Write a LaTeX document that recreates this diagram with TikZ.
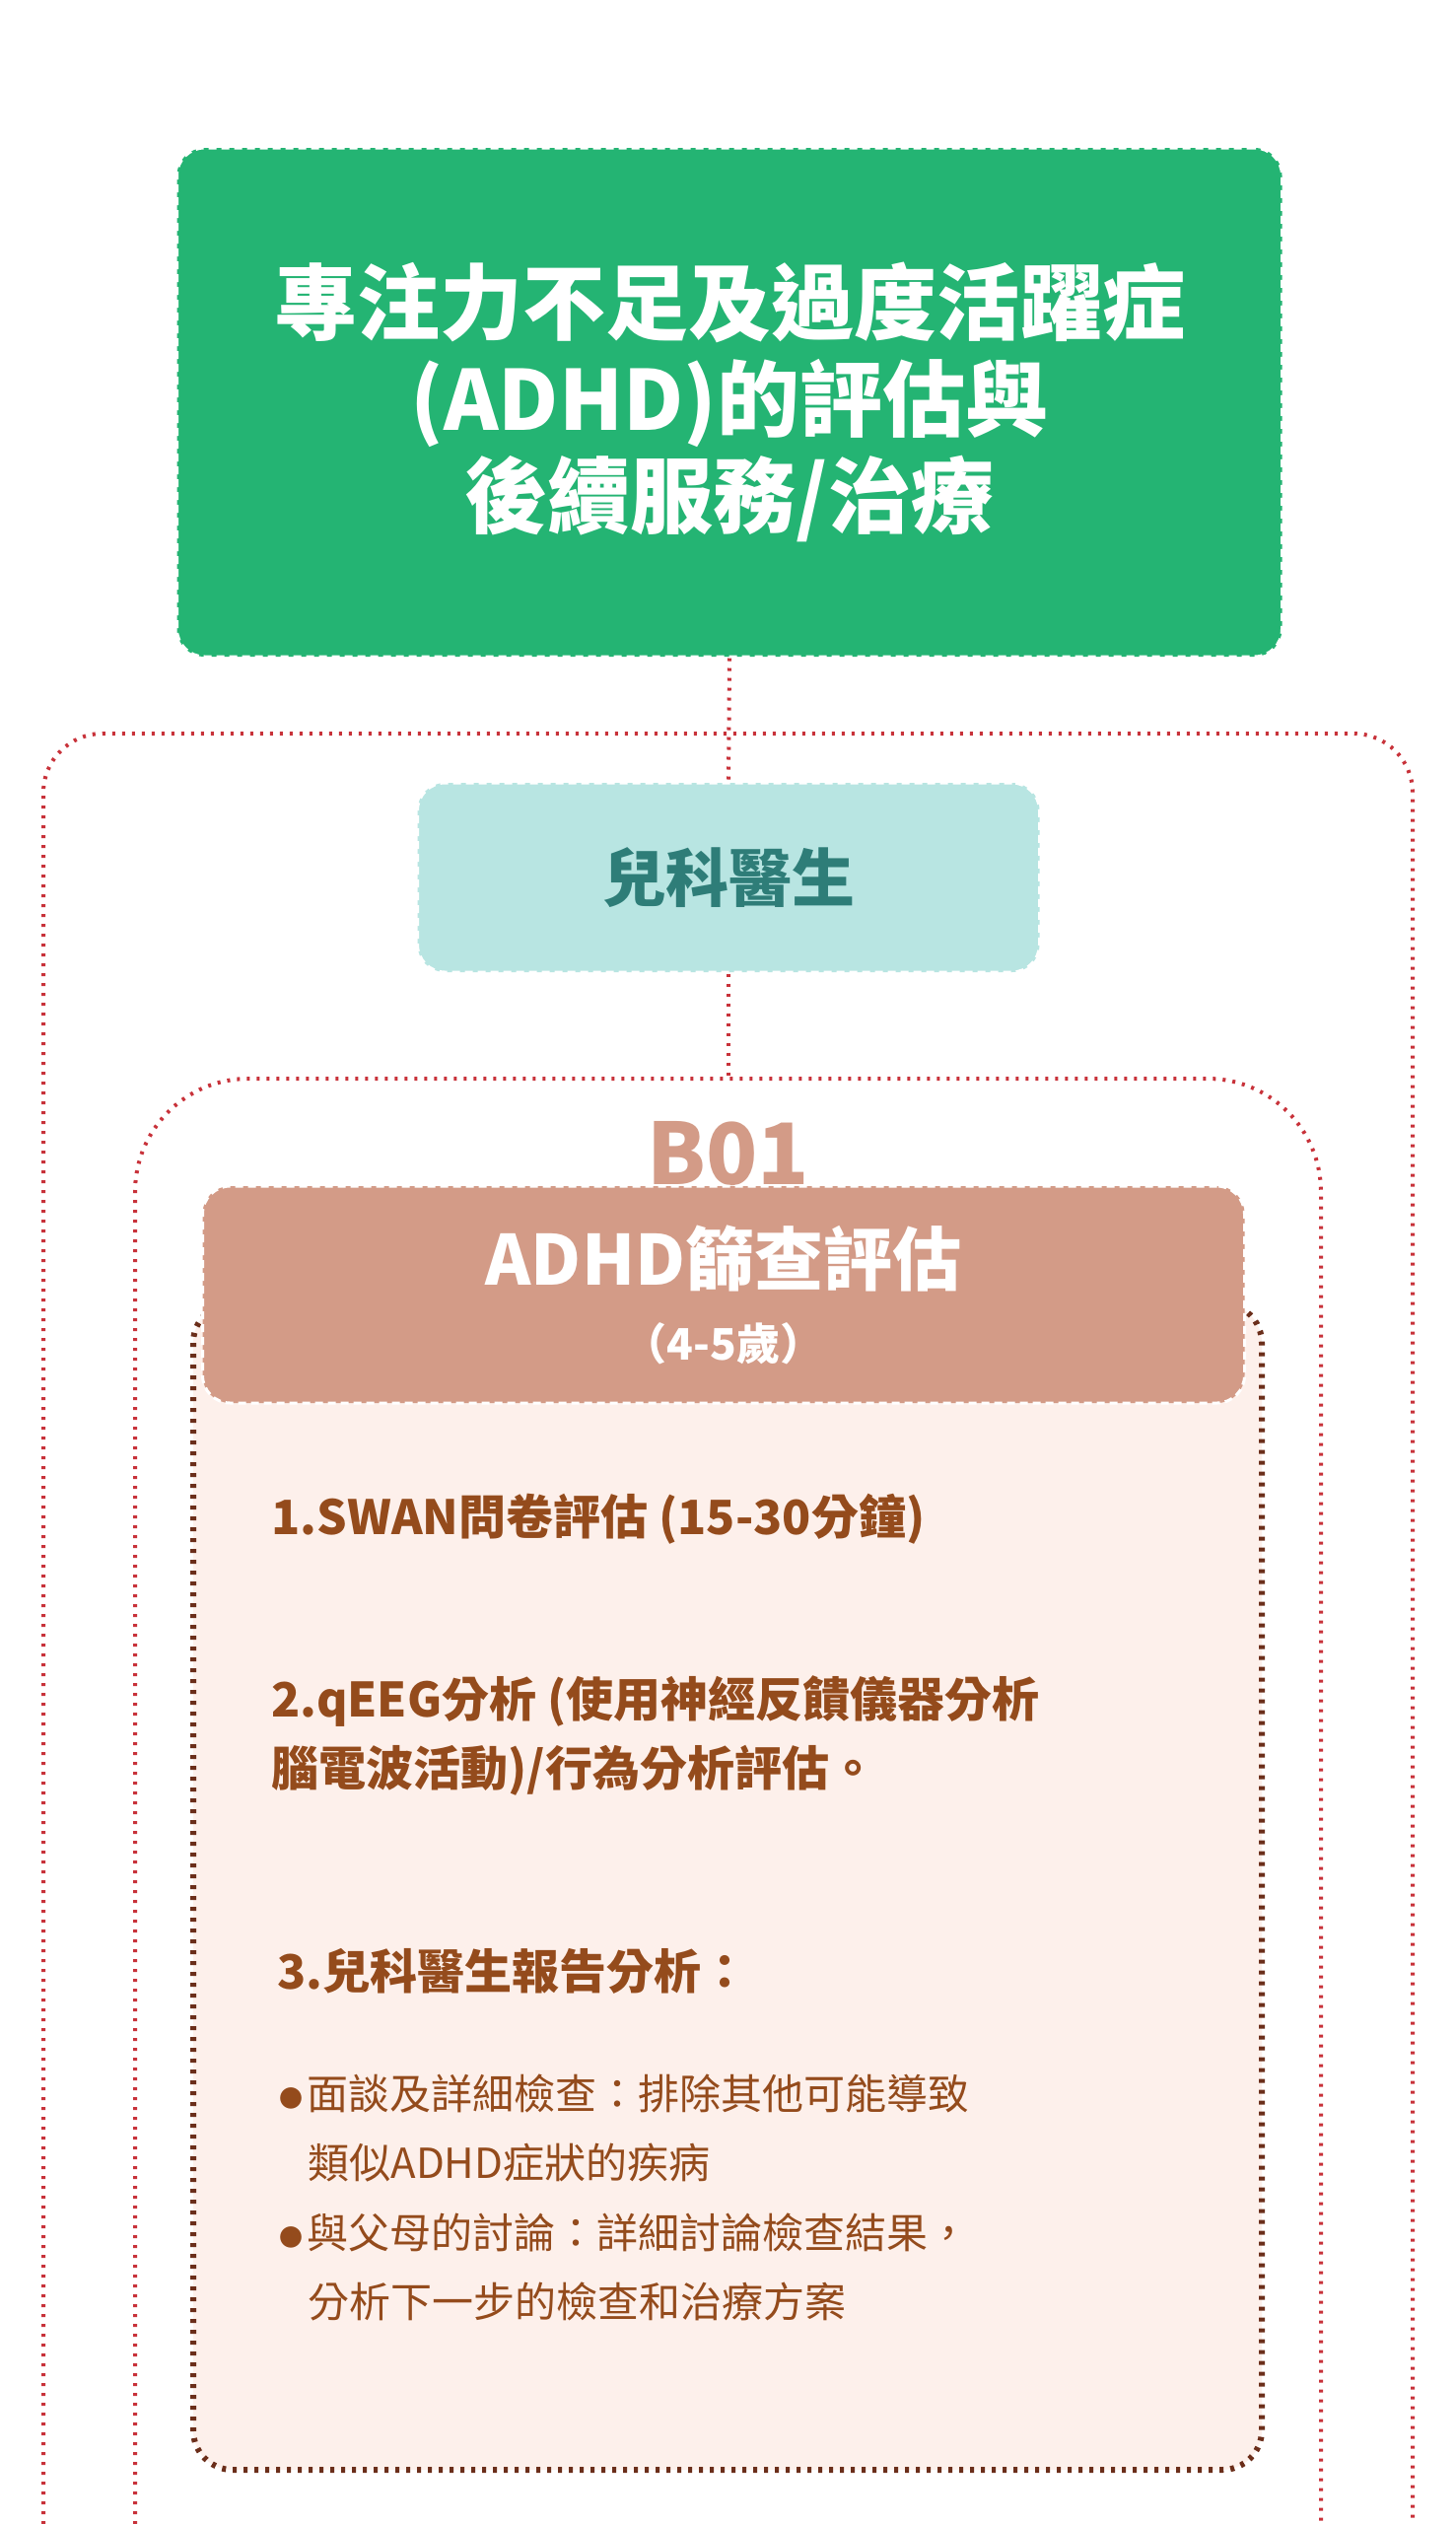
\documentclass[tikz,border=0pt]{standalone}
\usepackage{fontspec}
\setmainfont{Noto Sans CJK TC}
\usepackage{xcolor}
\usetikzlibrary{positioning, backgrounds}
\definecolor{titlegreen}{HTML}{24B473}
\definecolor{docblue}{HTML}{B8E5E2}
\definecolor{docteal}{HTML}{2E7D78}
\definecolor{boxbrown}{HTML}{D39B87}
\definecolor{panelpink}{HTML}{FDF0EB}
\definecolor{panelline}{HTML}{6B2E1A}
\definecolor{txtbrown}{HTML}{944B1C}
\definecolor{linered}{HTML}{C8323A}
\newcommand{\itembullet}{\raisebox{2pt}{\fontsize{24}{24}\selectfont ●}\hspace{4pt}}
\tikzset{
	reddots/.style={draw=linered, line width=4pt, dash pattern=on 3pt off 7pt},
	whitedash/.style={draw=white, line width=3pt, dash pattern=on 8pt off 5pt, rounded corners=28pt},
	itembold/.style={anchor=west, text=txtbrown, font=\bfseries\fontsize{48}{70}\selectfont, align=left},
	itemplain/.style={anchor=west, text=txtbrown, font=\fontsize{42}{70}\selectfont, align=left},
}
\begin{document}
\begin{tikzpicture}[x=1pt, y=-1pt]
	\useasboundingbox[fill=white] (0,0) rectangle (1477,2560);
		% outer frames
		\draw[reddots, rounded corners=60pt] (44,2600) -- (44,744) -- (1433,744) -- (1433,2600);
		\draw[reddots, rounded corners=115pt] (137,2600) -- (137,1094) -- (1340,1094) -- (1340,2600);

		% title
		\node[whitedash, fill=titlegreen, minimum width=1121pt, minimum height=516pt, text=white, align=center,
			font=\bfseries\fontsize{84}{98}\selectfont] (title) at (740,408)
			{專注力不足及過度活躍症\\(ADHD)的評估與\\後續服務/治療};

		\node[whitedash, fill=docblue, minimum width=631pt, minimum height=192pt, text=docteal,
			font=\bfseries\fontsize{64}{70}\selectfont] (doctor) at (739,890) {兒科醫生};
		\draw[reddots] (title.south) -- (doctor.north);
		\coordinate (b01top) at (739,1094);
		\draw[reddots] (doctor.south) -- (b01top);

		% panel
		\draw[draw=panelline, fill=panelpink, line width=6pt, dash pattern=on 4pt off 7pt, rounded corners=40pt]
			(196,1322) rectangle (1280,2505);
		\node[text=boxbrown, font=\bfseries\fontsize{86}{90}\selectfont] (code) at (739,1170) {B01};
		\node[whitedash, fill=boxbrown, minimum width=1057pt, minimum height=220pt, text=white, align=center,
			font=\bfseries\fontsize{70}{76}\selectfont] (screen) at (734,1313)
			{ADHD篩查評估\\{\fontsize{44}{50}\selectfont （4-5歲）}};

		% items
		\node[itembold] (i1) at (272,1541) {1.SWAN問卷評估 (15-30分鐘)};
		\node[itembold] (i2) at (272,1760) {2.qEEG分析 (使用神經反饋儀器分析\\腦電波活動)/行為分析評估。};
		\node[itembold] (i3) at (278,1999) {3.兒科醫生報告分析：};
		\node[itemplain] (i4) at (280,2158) {\itembullet 面談及詳細檢查：排除其他可能導致\\\hspace*{29pt}類似ADHD症狀的疾病};
		\node[itemplain] (i5) at (280,2299) {\itembullet 與父母的討論：詳細討論檢查結果，\\\hspace*{29pt}分析下一步的檢查和治療方案};
	\end{tikzpicture}
\end{document}
